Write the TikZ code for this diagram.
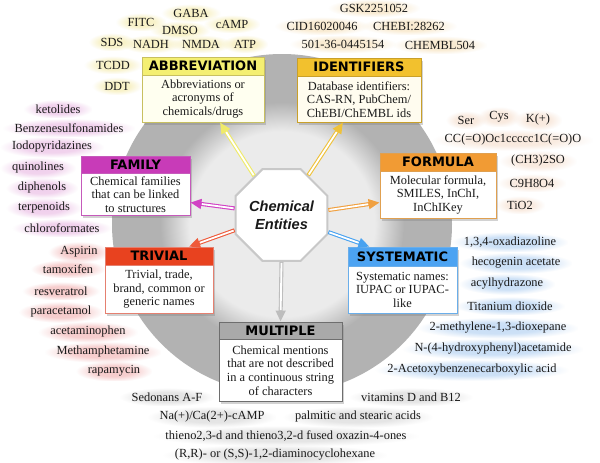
\documentclass[tikz,border=0pt]{standalone}
\usepackage{fontspec}
\setmainfont{Liberation Serif}
\newfontfamily\bodyf{Liberation Serif}
\newfontfamily\hfont{DejaVu Sans}
\newfontfamily\cefont{Liberation Sans}
\usetikzlibrary{shapes.geometric,arrows.meta,shadows,fadings,calc}
\definecolor{ringgray}{HTML}{B2B2B2}
\definecolor{innerlight}{HTML}{EBEBEB}
\definecolor{octline}{HTML}{C8C8C8}
\definecolor{abbrhead}{HTML}{F4EF72}\definecolor{abbrbody}{HTML}{FFFFF0}\definecolor{abbrline}{HTML}{C8C060}
\definecolor{identhead}{HTML}{F2C12E}\definecolor{identbody}{HTML}{FFFCEF}\definecolor{identline}{HTML}{C9A02A}
\definecolor{formhead}{HTML}{F19B34}\definecolor{formline}{HTML}{E0A050}
\definecolor{syshead}{HTML}{4CA3F2}\definecolor{sysline}{HTML}{6AAEEA}
\definecolor{famhead}{HTML}{C83BB8}\definecolor{famline}{HTML}{C55ABB}
\definecolor{trivhead}{HTML}{E8421F}\definecolor{trivline}{HTML}{E58070}
\definecolor{multhead}{HTML}{A9A9A9}\definecolor{multline}{HTML}{6E6E6E}
\definecolor{arrY}{HTML}{EFEA6A}\definecolor{arrG}{HTML}{EFC23A}\definecolor{arrO}{HTML}{F0A040}
\definecolor{arrB}{HTML}{48A2F0}\definecolor{arrM}{HTML}{D142C4}\definecolor{arrR}{HTML}{EE5A3A}
\definecolor{arrK}{HTML}{BDBDBD}
\definecolor{gY}{HTML}{F8F1C4}\definecolor{gG}{HTML}{F9EACF}\definecolor{gO}{HTML}{F9E9DD}
\definecolor{gB}{HTML}{C8DEF6}\definecolor{gM}{HTML}{F0CFEC}\definecolor{gR}{HTML}{F6CACA}
\definecolor{gK}{HTML}{E3E3E3}
\definecolor{txt}{HTML}{1A1A1A}
\pgfdeclareradialshading{ringsh}{\pgfpoint{0bp}{0bp}}{color(0bp)=(innerlight); color(19bp)=(innerlight); color(25bp)=(ringgray); color(50bp)=(ringgray)}
\pgfdeclareradialshading{glowsh}{\pgfpoint{0bp}{0bp}}{color(0bp)=(pgftransparent!0); color(13bp)=(pgftransparent!10); color(25bp)=(pgftransparent!100); color(50bp)=(pgftransparent!100)}
\pgfdeclarefading{glowfade}{\pgfuseshading{glowsh}}
\newcommand\chemarr[3]{%
  \draw[#1, line width=4pt, -{Triangle[length=11pt,width=9.5pt]}] #2 -- #3;
  \draw[white, line width=1.8pt, shorten >=11.5pt, shorten <=1pt] #2 -- #3;}
\begin{document}
\begin{tikzpicture}[x=1pt,y=-1pt,
  frame/.style={draw, line width=0.8pt, drop shadow={shadow xshift=2pt, shadow yshift=-2.5pt, opacity=0.35}},
  head/.style={draw, line width=0.8pt, anchor=north, inner sep=0pt, text=black,
     font=\hfont\bfseries\fontsize{13}{14}\selectfont},
  bodytxt/.style={align=center, inner sep=0pt, text=txt, font=\bodyf\fontsize{12.4}{13.6}\selectfont},
  lbl/.style={inner xsep=12pt, inner ysep=5pt, text=txt, font=\bodyf\fontsize{12.4}{14}\selectfont,
     preaction={fill=#1, path fading=glowfade}},
  octo/.style={regular polygon, regular polygon sides=8, minimum size=95pt, inner sep=0pt,
     draw=octline, line width=2pt, fill=white, align=center, text=txt,
     font=\cefont\bfseries\itshape\fontsize{14.6}{18}\selectfont}]
\useasboundingbox (0,0) rectangle (600,463);
\fill[white] (0,0) rectangle (600,463);
% ring
\fill[ringgray] (282,224) circle (170pt);
\shade[shading=ringsh] (282,224) circle (122pt);

% labels: abbreviations
\node[lbl=gY] (a1) at (191,13) {GABA};
\node[lbl=gY] (a2) at (141,22) {FITC};
\node[lbl=gY] (a3) at (180,30) {DMSO};
\node[lbl=gY] (a4) at (232,24) {cAMP};
\node[lbl=gY] (a5) at (112,42) {SDS};
\node[lbl=gY] (a6) at (151,44) {NADH};
\node[lbl=gY] (a7) at (201,44) {NMDA};
\node[lbl=gY] (a8) at (245,44) {ATP};
\node[lbl=gY] (a9) at (113,65) {TCDD};
\node[lbl=gY] (a10) at (117,86) {DDT};
% identifiers
\node[lbl=gG] (i1) at (374,8) {GSK2251052};
\node[lbl=gG] (i2) at (322,26) {CID16020046};
\node[lbl=gG] (i3) at (409,26) {CHEBI:28262};
\node[lbl=gG] (i4) at (343,44) {501-36-0445154};
\node[lbl=gG] (i5) at (440,45) {CHEMBL504};
% formula
\node[lbl=gO] (f1) at (466,120) {Ser};
\node[lbl=gO] (f2) at (499,117) {Cys};
\node[lbl=gO] (f3) at (538,120) {K(+)};
\node[lbl=gO] (f4) at (513,140) {CC(=O)Oc1ccccc1C(=O)O};
\node[lbl=gO] (f5) at (538,161) {(CH3)2SO};
\node[lbl=gO] (f6) at (532,183) {C9H8O4};
\node[lbl=gO] (f7) at (520,205) {TiO2};
% systematic
\node[lbl=gB] (s1) at (510,242) {1,3,4-oxadiazoline};
\node[lbl=gB] (s2) at (516,263) {hecogenin acetate};
\node[lbl=gB] (s3) at (507,284) {acylhydrazone};
\node[lbl=gB] (s4) at (510,306) {Titanium dioxide};
\node[lbl=gB] (s5) at (498,328) {2-methylene-1,3-dioxepane};
\node[lbl=gB] (s6) at (493,349) {N-(4-hydroxyphenyl)acetamide};
\node[lbl=gB] (s7) at (472,370) {2-Acetoxybenzenecarboxylic acid};
% family
\node[lbl=gM] (m1) at (58,109) {ketolides};
\node[lbl=gM] (m2) at (69,128) {Benzenesulfonamides};
\node[lbl=gM] (m3) at (52,147) {Iodopyridazines};
\node[lbl=gM] (m4) at (38,168) {quinolines};
\node[lbl=gM] (m5) at (42,188) {diphenols};
\node[lbl=gM] (m6) at (44,208) {terpenoids};
\node[lbl=gM] (m7) at (62,228) {chloroformates};
% trivial
\node[lbl=gR] (t1) at (79,252) {Aspirin};
\node[lbl=gR] (t2) at (68,269) {tamoxifen};
\node[lbl=gR] (t3) at (61,291) {resveratrol};
\node[lbl=gR] (t4) at (61,312) {paracetamol};
\node[lbl=gR] (t5) at (88,332) {acetaminophen};
\node[lbl=gR] (t6) at (103,352) {Methamphetamine};
\node[lbl=gR] (t7) at (114,371) {rapamycin};
% multiple
\node[lbl=gK] (k1) at (167,397) {Sedonans A-F};
\node[lbl=gK] (k2) at (411,397) {vitamins D and B12};
\node[lbl=gK] (k3) at (212,417) {Na(+)/Ca(2+)-cAMP};
\node[lbl=gK] (k4) at (358,417) {palmitic and stearic acids};
\node[lbl=gK] (k5) at (286,436) {thieno2,3-d and thieno3,2-d fused oxazin-4-ones};
\node[lbl=gK] (k6) at (275,455) {(R,R)- or (S,S)-1,2-diaminocyclohexane};

% boxes
\node[frame, draw=abbrline, fill=abbrbody, minimum width=122pt, minimum height=65pt] (abbrF) at (203,89.5) {};
\node[head, fill=abbrhead, draw=abbrline, minimum width=122pt, minimum height=18pt] (abbrH) at (abbrF.north) {ABBREVIATION};
\node[bodytxt] (abbrT) at ($(abbrH.south)!0.5!(abbrF.south)$) {Abbreviations or\\acronyms of\\chemicals/drugs};

\node[frame, draw=identline, fill=identbody, minimum width=124pt, minimum height=64pt] (idF) at (359,90) {};
\node[head, fill=identhead, draw=identline, minimum width=124pt, minimum height=18pt] (idH) at (idF.north) {IDENTIFIERS};
\node[bodytxt] (idT) at ($(idH.south)!0.5!(idF.south)$) {Database identifiers:\\CAS-RN, PubChem/\\ChEBI/ChEMBL ids};

\node[frame, draw=formline, fill=white, minimum width=116pt, minimum height=65pt] (foF) at (438,185.5) {};
\node[head, fill=formhead, draw=formline, minimum width=116pt, minimum height=18pt] (foH) at (foF.north) {FORMULA};
\node[bodytxt] (foT) at ($(foH.south)!0.5!(foF.south)$) {Molecular formula,\\SMILES, InChI,\\InChIKey};

\node[frame, draw=sysline, fill=white, minimum width=109pt, minimum height=66pt] (syF) at (402.5,280) {};
\node[head, fill=syshead, draw=sysline, minimum width=109pt, minimum height=19pt] (syH) at (syF.north) {SYSTEMATIC};
\node[bodytxt] (syT) at ($(syH.south)!0.5!(syF.south)$) {Systematic names:\\IUPAC or IUPAC-\\like};

\node[frame, draw=famline, fill=white, minimum width=109pt, minimum height=59pt] (faF) at (135.5,185.5) {};
\node[head, fill=famhead, draw=famline, minimum width=109pt, minimum height=17pt] (faH) at (faF.north) {FAMILY};
\node[bodytxt] (faT) at ($(faH.south)!0.5!(faF.south)$) {Chemical families\\that can be linked\\to structures};

\node[frame, draw=trivline, fill=white, minimum width=108pt, minimum height=66pt] (trF) at (159,280) {};
\node[head, fill=trivhead, draw=trivline, minimum width=108pt, minimum height=18pt] (trH) at (trF.north) {TRIVIAL};
\node[bodytxt] (trT) at ($(trH.south)!0.5!(trF.south)$) {Trivial, trade,\\brand, common or\\generic names};

\node[frame, draw=multline, fill=white, minimum width=123pt, minimum height=79pt] (muF) at (280.5,361.5) {};
\node[head, fill=multhead, draw=multline, minimum width=123pt, minimum height=17pt] (muH) at (muF.north) {MULTIPLE};
\node[bodytxt] (muT) at ($(muH.south)!0.5!(muF.south)$) {Chemical mentions\\that are not described\\in a continuous string\\of characters};

% centre
\node[octo] (ce) at (281.5,215) {Chemical\\Entities};

% arrows
\chemarr{arrY}{(ce.125)}{([xshift=17pt]abbrF.south)}
\chemarr{arrG}{(ce.56)}{([xshift=-16pt]idF.south)}
\chemarr{arrO}{(ce.6)}{([yshift=-17pt]foF.west)}
\chemarr{arrB}{(ce.-20)}{([xshift=-33pt]syF.north)}
\chemarr{arrM}{(ce.172)}{([yshift=-17pt]faF.east)}
\chemarr{arrR}{(ce.198)}{([xshift=30pt]trF.north)}
\chemarr{arrK}{(ce.south)}{(muF.north)}
\end{tikzpicture}
\end{document}
